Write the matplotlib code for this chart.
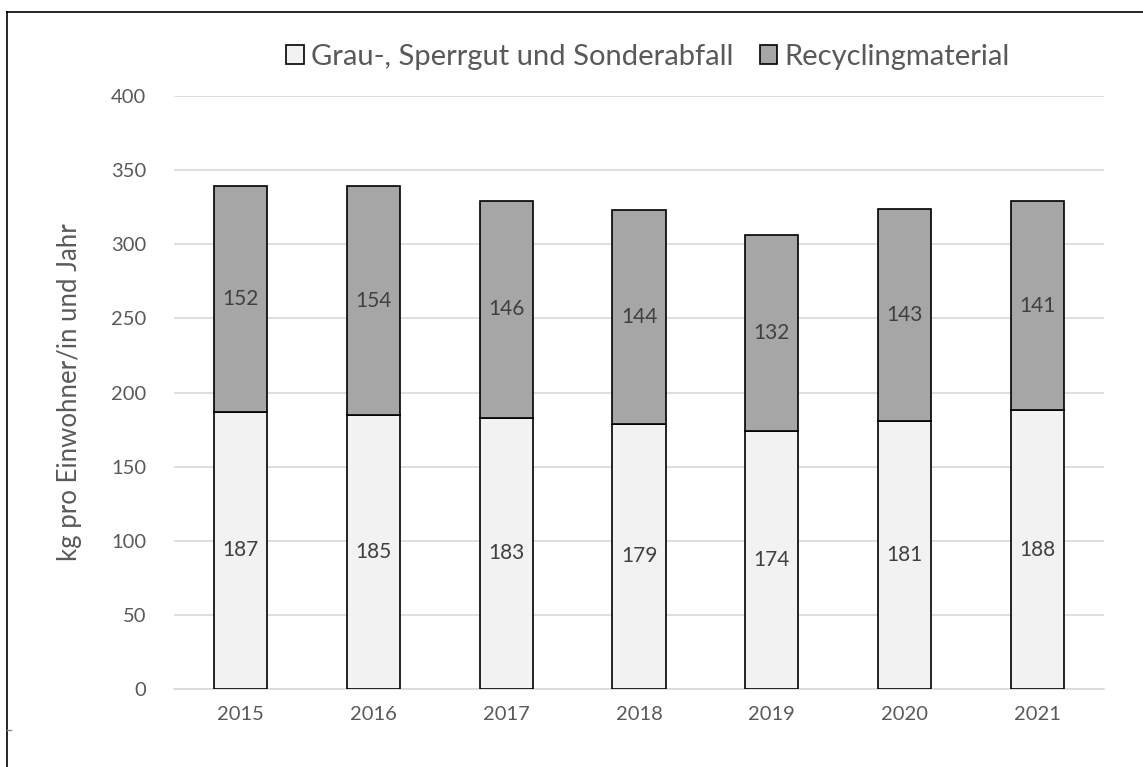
import matplotlib
matplotlib.use("Agg")
import matplotlib.pyplot as plt
from matplotlib.lines import Line2D
from matplotlib.patches import Patch

years = ["2015", "2016", "2017", "2018", "2019", "2020", "2021"]
grau = [187, 185, 183, 179, 174, 181, 188]
recycling = [152, 154, 146, 144, 132, 143, 141]
series_names = ["Grau-, Sperrgut und Sonderabfall", "Recyclingmaterial"]
y_ticks = [0, 50, 100, 150, 200, 250, 300, 350, 400]

plt.rcParams["font.family"] = ["Lato", "DejaVu Sans"]
text_color = "#595959"

W, H = 1143, 767
fig = plt.figure(figsize=(W / 100, H / 100), dpi=100)
ax = fig.add_axes([174 / W, 1 - 689 / H, (1104 - 174) / W, (689 - 96) / H])

x = list(range(len(years)))
bw = 0.4
ax.bar(x, grau, width=bw, color="#f2f2f2", edgecolor="black", linewidth=1.2, zorder=3)
ax.bar(x, recycling, width=bw, bottom=grau, color="#a6a6a6", edgecolor="black",
       linewidth=1.2, zorder=3)

for i in x:
    ax.text(i, grau[i] / 2, str(grau[i]), ha="center", va="center",
            fontsize=15, color="#404040", zorder=4)
    ax.text(i, grau[i] + recycling[i] / 2, str(recycling[i]), ha="center",
            va="center", fontsize=15, color="#404040", zorder=4)

ax.set_xlim(-0.5, len(years) - 0.5)
ax.set_ylim(0, 400)
ax.set_yticks(y_ticks)
ax.set_xticks(x)
ax.set_xticklabels(years)
ax.tick_params(axis="both", length=0, labelsize=14.5, colors=text_color)
ax.tick_params(axis="x", pad=12)
ax.tick_params(axis="y", pad=20)
ax.yaxis.grid(True, color="#d9d9d9", linewidth=1.2, zorder=0)
ax.set_axisbelow(True)
for s in ["top", "right", "left"]:
    ax.spines[s].set_visible(False)
ax.spines["bottom"].set_color("#d9d9d9")
ax.spines["bottom"].set_linewidth(1.2)

fig.text(70 / W, 1 - 392 / H, "kg pro Einwohner/in und Jahr", rotation=90,
         ha="center", va="center", fontsize=18.5, color=text_color)

handles = [Patch(facecolor="#f2f2f2", edgecolor="black", linewidth=1.2),
           Patch(facecolor="#a6a6a6", edgecolor="black", linewidth=1.2)]
fig.legend(handles, series_names, loc="center", bbox_to_anchor=(648 / W, 1 - 57 / H),
           ncol=2, frameon=False, fontsize=21, labelcolor=text_color,
           handlelength=0.6, handleheight=0.6, handletextpad=0.25, columnspacing=0.9)

# Chart frame
fig.add_artist(Line2D([7 / W, 1.0], [1 - 12 / H, 1 - 12 / H], color="black", linewidth=1.2))
fig.add_artist(Line2D([7 / W, 7 / W], [0, 1 - 12 / H], color="black", linewidth=1.2))
fig.add_artist(Line2D([7 / W, 11 / W], [1 - 730 / H, 1 - 730 / H], color="#888888", linewidth=1))

fig.savefig("out.png", dpi=100)
